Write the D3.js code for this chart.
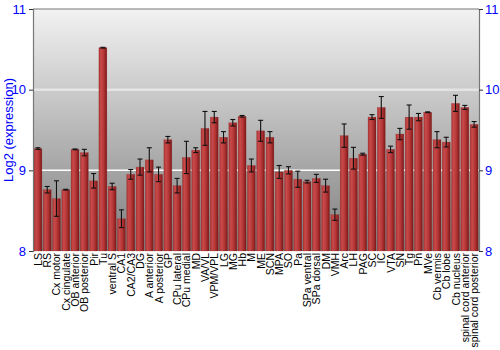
<!DOCTYPE html>
<html>
<head>
<meta charset="utf-8">
<script src="https://cdn.jsdelivr.net/npm/d3@7"></script>
<style>
  body { margin: 0; background: #fff; }
  svg { display: block; font-family: "Liberation Sans", Arial, sans-serif; }
</style>
</head>
<body>
<script>
const width = 500;
const height = 350;

const regions = ["LS", "RS", "Cx motor", "Cx cingulate", "OB anterior", "OB posterior", "Pir", "Tu",
  "ventral S", "CA1", "CA2/CA3", "DG", "A anterior", "A posterior", "GP", "CPu lateral", "CPu medial",
  "MD", "VA/VL", "VPM/VPL", "LG", "MG", "Hb", "M", "ME", "SCN", "MPA", "SO", "Pa", "SPa ventral",
  "SPa dorsal", "DM", "VMH", "Arc", "LH", "PAG", "SC", "IC", "VTA", "SN", "Tg", "Pn", "MVe",
  "Cb vermis", "Cb lobe", "Cb nucleus", "spinal cord anterior", "spinal cord posterior"];

const expression = [9.27, 8.76, 8.65, 8.76, 9.26, 9.22, 8.87, 10.52,
  8.80, 8.40, 8.95, 9.04, 9.13, 8.95, 9.38, 8.81, 9.16,
  9.25, 9.52, 9.66, 9.41, 9.59, 9.67, 9.06, 9.49, 9.41, 8.98, 9.00, 8.89, 8.86,
  8.90, 8.81, 8.45, 9.43, 9.15, 9.20, 9.66, 9.78, 9.26, 9.45, 9.66, 9.66, 9.72,
  9.38, 9.35, 9.83, 9.78, 9.57];

const errors = [0.01, 0.04, 0.22, 0.005, 0.005, 0.04, 0.09, 0.005,
  0.04, 0.11, 0.06, 0.10, 0.15, 0.09, 0.04, 0.09, 0.20,
  0.03, 0.21, 0.07, 0.07, 0.04, 0.01, 0.08, 0.13, 0.07, 0.08, 0.045, 0.10, 0.017,
  0.05, 0.08, 0.07, 0.145, 0.135, 0.012, 0.03, 0.135, 0.04, 0.07, 0.15, 0.045, 0.005,
  0.10, 0.06, 0.10, 0.025, 0.035];

const yTicks = [8, 9, 10, 11];

const data = regions.map((r, i) => ({ region: r, value: expression[i], err: errors[i] }));

const margin = { top: 9, right: 21, bottom: 99, left: 33 };

const svg = d3.select("body").append("svg")
    .attr("width", width)
    .attr("height", height);

const defs = svg.append("defs");

const bg = defs.append("linearGradient")
    .attr("id", "bg")
    .attr("x1", 0).attr("y1", 0).attr("x2", 0).attr("y2", 1);
bg.append("stop").attr("offset", "0%").attr("stop-color", "#f2f2f2");
bg.append("stop").attr("offset", "100%").attr("stop-color", "#7e7e7e");

const barGrad = defs.append("linearGradient")
    .attr("id", "bar")
    .attr("x1", 0).attr("y1", 0).attr("x2", 1).attr("y2", 0);
barGrad.append("stop").attr("offset", "0%").attr("stop-color", "#a83232");
barGrad.append("stop").attr("offset", "25%").attr("stop-color", "#c94a4a");
barGrad.append("stop").attr("offset", "60%").attr("stop-color", "#b53636");
barGrad.append("stop").attr("offset", "100%").attr("stop-color", "#7d1818");

const x = d3.scaleBand()
    .domain(regions)
    .range([margin.left, width - margin.right])
    .paddingInner(0.14)
    .paddingOuter(0.1);

const y = d3.scaleLinear()
    .domain([8, 11])
    .range([height - margin.bottom, margin.top]);

// plot background
svg.append("rect")
    .attr("x", margin.left)
    .attr("y", margin.top)
    .attr("width", width - margin.left - margin.right)
    .attr("height", height - margin.top - margin.bottom)
    .attr("fill", "url(#bg)");

// grid lines
svg.append("g")
    .selectAll("line")
    .data([9, 10])
    .join("line")
    .attr("x1", margin.left)
    .attr("x2", width - margin.right)
    .attr("y1", d => y(d))
    .attr("y2", d => y(d))
    .attr("stroke", d => d == 10 ? "#e4e4e4" : "#ffffff")
    .attr("stroke-width", d => d == 10 ? 2.5 : 1.5);

// top border
svg.append("line")
    .attr("x1", margin.left)
    .attr("x2", width - margin.right)
    .attr("y1", margin.top)
    .attr("y2", margin.top)
    .attr("stroke", "#777")
    .attr("stroke-width", 1.2);

// bars
svg.append("g")
    .selectAll("rect")
    .data(data)
    .join("rect")
    .attr("x", d => x(d.region))
    .attr("y", d => y(d.value))
    .attr("width", x.bandwidth())
    .attr("height", d => y(8) - y(d.value))
    .attr("fill", "url(#bar)")
    .attr("stroke", "#8a2020")
    .attr("stroke-opacity", 0.4)
    .attr("stroke-width", 0.5);

// error bars
const eb = svg.append("g")
    .attr("stroke", "#111")
    .attr("stroke-width", 1.1);

data.forEach(d => {
    const cx = x(d.region) + x.bandwidth() / 2;
    const y0 = y(d.value - d.err);
    const y1 = y(d.value + d.err);
    eb.append("line").attr("x1", cx).attr("x2", cx).attr("y1", y0).attr("y2", y1);
    eb.append("line").attr("x1", cx - 2.5).attr("x2", cx + 2.5).attr("y1", y0).attr("y2", y0);
    eb.append("line").attr("x1", cx - 2.5).attr("x2", cx + 2.5).attr("y1", y1).attr("y2", y1);
});

// axes
const leftAxis = svg.append("g")
    .attr("transform", `translate(${margin.left},0)`)
    .call(d3.axisLeft(y).tickValues(yTicks).tickFormat(d3.format("d")).tickSize(4).tickPadding(3));

const rightAxis = svg.append("g")
    .attr("transform", `translate(${width - margin.right},0)`)
    .call(d3.axisRight(y).tickValues(yTicks).tickFormat(d3.format("d")).tickSize(4).tickPadding(2));

[leftAxis, rightAxis].forEach(a => {
    a.select(".domain").attr("stroke", "#777").attr("stroke-width", 1.2);
    a.selectAll(".tick line").attr("stroke", "#333");
    a.selectAll(".tick text")
        .attr("fill", "#0000ff")
        .attr("font-size", 13)
        .attr("font-family", "Liberation Sans, Arial, sans-serif");
});

// category labels
svg.append("g")
    .selectAll("text")
    .data(regions)
    .join("text")
    .attr("transform", d => `translate(${x(d) + x.bandwidth() / 2 + 4},${height - margin.bottom + 2}) rotate(-90)`)
    .attr("text-anchor", "end")
    .attr("font-size", 10.5)
    .attr("fill", "#000")
    .text(d => d);

// y title
svg.append("text")
    .attr("transform", `translate(13,${(margin.top + height - margin.bottom) / 2}) rotate(-90)`)
    .attr("text-anchor", "middle")
    .attr("font-size", 13)
    .attr("fill", "#0000ff")
    .text("Log2 (expression)");
</script>
</body>
</html>
